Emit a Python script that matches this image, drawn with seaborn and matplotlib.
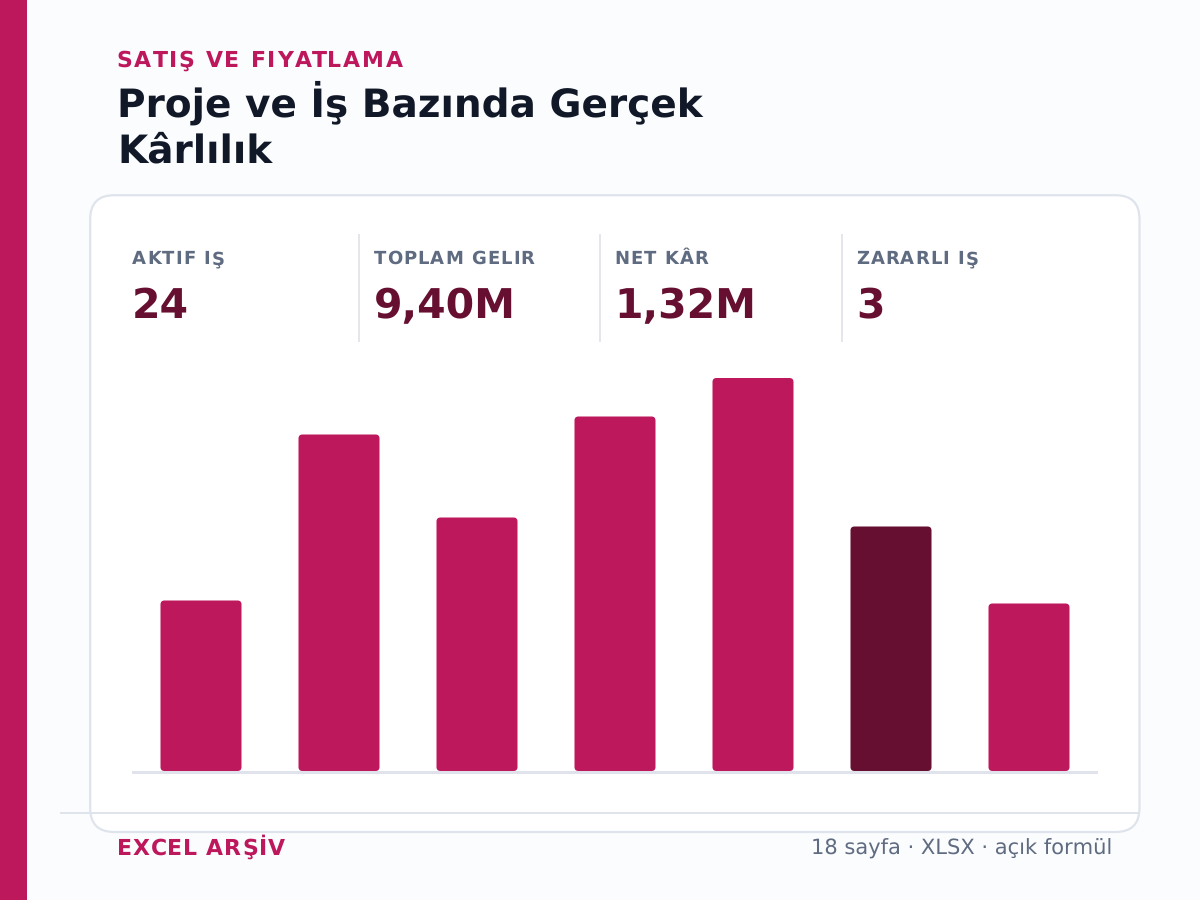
import matplotlib
matplotlib.use("Agg")
import matplotlib.pyplot as plt
import pandas as pd
import seaborn as sns
from matplotlib.patches import FancyBboxPatch, Rectangle
from matplotlib.text import Text

# ---- data ----
categories = ["İş 1", "İş 2", "İş 3", "İş 4", "İş 5", "İş 6", "İş 7"]
values = [170.5, 336.5, 253.5, 354.5, 393, 244.5, 167.5]
kpi_labels = ["AKTIF IŞ", "TOPLAM GELIR", "NET KÂR", "ZARARLI IŞ"]
kpi_values = ["24", "9,40M", "1,32M", "3"]
eyebrow = "SATIŞ VE FIYATLAMA"
title_lines = ["Proje ve İş Bazında Gerçek", "Kârlılık"]
footer_left = "EXCEL ARŞİV"
footer_right = "18 sayfa · XLSX · açık formül"

# ---- colours ----
MAGENTA = "#BE185D"
WINE = "#660F30"
BG = "#FBFCFE"
BORDER = "#DFE3EC"
INK = "#111827"
SLATE = "#5F6B80"
bar_colors = [MAGENTA, MAGENTA, MAGENTA, MAGENTA, MAGENTA, WINE, MAGENTA]

sns.set_theme(style="white")
plt.rcParams["font.family"] = ["DejaVu Sans"]
plt.rcParams["text.hinting"] = "no_hinting"
plt.rcParams["text.hinting_factor"] = 1

W, H = 1200, 900
fig = plt.figure(figsize=(W / 100, H / 100), dpi=100, facecolor=BG)
px = lambda v: v * 0.72  # pixel size to points

canvas = fig.add_axes([0, 0, 1, 1], zorder=0)
canvas.set_xlim(0, W)
canvas.set_ylim(H, 0)
canvas.axis("off")


class SpacedText(Text):
    """One text object drawn with CSS-like letter spacing."""

    def __init__(self, *args, spacing=0, **kwargs):
        super().__init__(*args, **kwargs)
        self._spacing = spacing

    def draw(self, renderer):
        s = self.get_text()
        x0, y0 = self.get_transform().transform(self.get_position())
        fp = self.get_fontproperties()
        for i, ch in enumerate(s):
            w = renderer.get_text_width_height_descent(s[:i], fp, False)[0] if i else 0
            Text(x0 + w + i * self._spacing, y0, ch, fontproperties=fp, color=self.get_color(),
                 va=self.get_va(), ha="left", figure=self.get_figure(),
                 transform=None).draw(renderer)


def spaced(x, y, s, size, color, spacing):
    t = SpacedText(x, y, s, spacing=spacing, fontsize=px(size), fontweight="bold", color=color,
                   va="baseline", ha="left", transform=canvas.transData)
    canvas.add_artist(t)
    return t


# page furniture
canvas.add_patch(Rectangle((0, 0), 27, H, fc=MAGENTA, ec="none"))
canvas.add_patch(FancyBboxPatch((90.2, 195.2), 1049.3, 636.8, boxstyle="round,pad=0,rounding_size=24",
                                fc="white", ec=BORDER, lw=px(2.2)))
canvas.add_patch(Rectangle((60, 812), 1080, 2, fc=BORDER, ec="none"))

# header
spaced(116.5, 67, eyebrow, 22, MAGENTA, 1.75)
for line, y in zip(title_lines, [117, 162]):
    canvas.text(117, y, line, fontsize=px(38.8), fontweight="bold", color=INK, va="baseline")

# KPI strip
kpi_x = [132, 373.7, 614.6, 856.4]
for x, lab, val in zip(kpi_x, kpi_labels, kpi_values):
    spaced(x, 264, lab, 18, SLATE, 1.03)
    canvas.text(x, 318.5, val, fontsize=px(40.5), fontweight="bold", color=WINE, va="baseline")
for x in [358, 599, 841]:
    canvas.add_patch(Rectangle((x, 234), 2, 108, fc="#E4E6EB", ec="none"))

# footer
spaced(117, 855, footer_left, 22, MAGENTA, 0.92)
canvas.text(1112, 855, footer_right, fontsize=px(21), color=SLATE, va="baseline", ha="right")

# chart
canvas.add_patch(Rectangle((132, 771), 966, 2.5, fc="#E0E2EC", ec="none"))
ax = fig.add_axes([132 / W, 1 - 771 / H, 966 / W, 400 / H], zorder=1)
df = pd.DataFrame({"category": categories, "value": values})
sns.barplot(data=df, x="category", y="value", hue="category", palette=bar_colors,
            width=81 / 138, legend=False, ax=ax, saturation=1)
ax.set_xlim(-0.5, 6.5)
ax.set_ylim(0, 400)
ax.axis("off")
ax.patch.set_visible(False)

# round the corners of the seaborn bars
fig.canvas.draw()
to_canvas = ax.transData + canvas.transData.inverted()
for bar in list(ax.patches):
    (x0, y0), (x1, y1) = to_canvas.transform(
        [(bar.get_x(), 0), (bar.get_x() + bar.get_width(), bar.get_height())])
    ax.add_patch(FancyBboxPatch((x0, y1), x1 - x0, y0 - y1, boxstyle="round,pad=0,rounding_size=4",
                                fc=bar.get_facecolor(), ec="none", transform=canvas.transData,
                                clip_on=False))
    bar.remove()

fig.savefig("out.png", dpi=100, facecolor=BG)
